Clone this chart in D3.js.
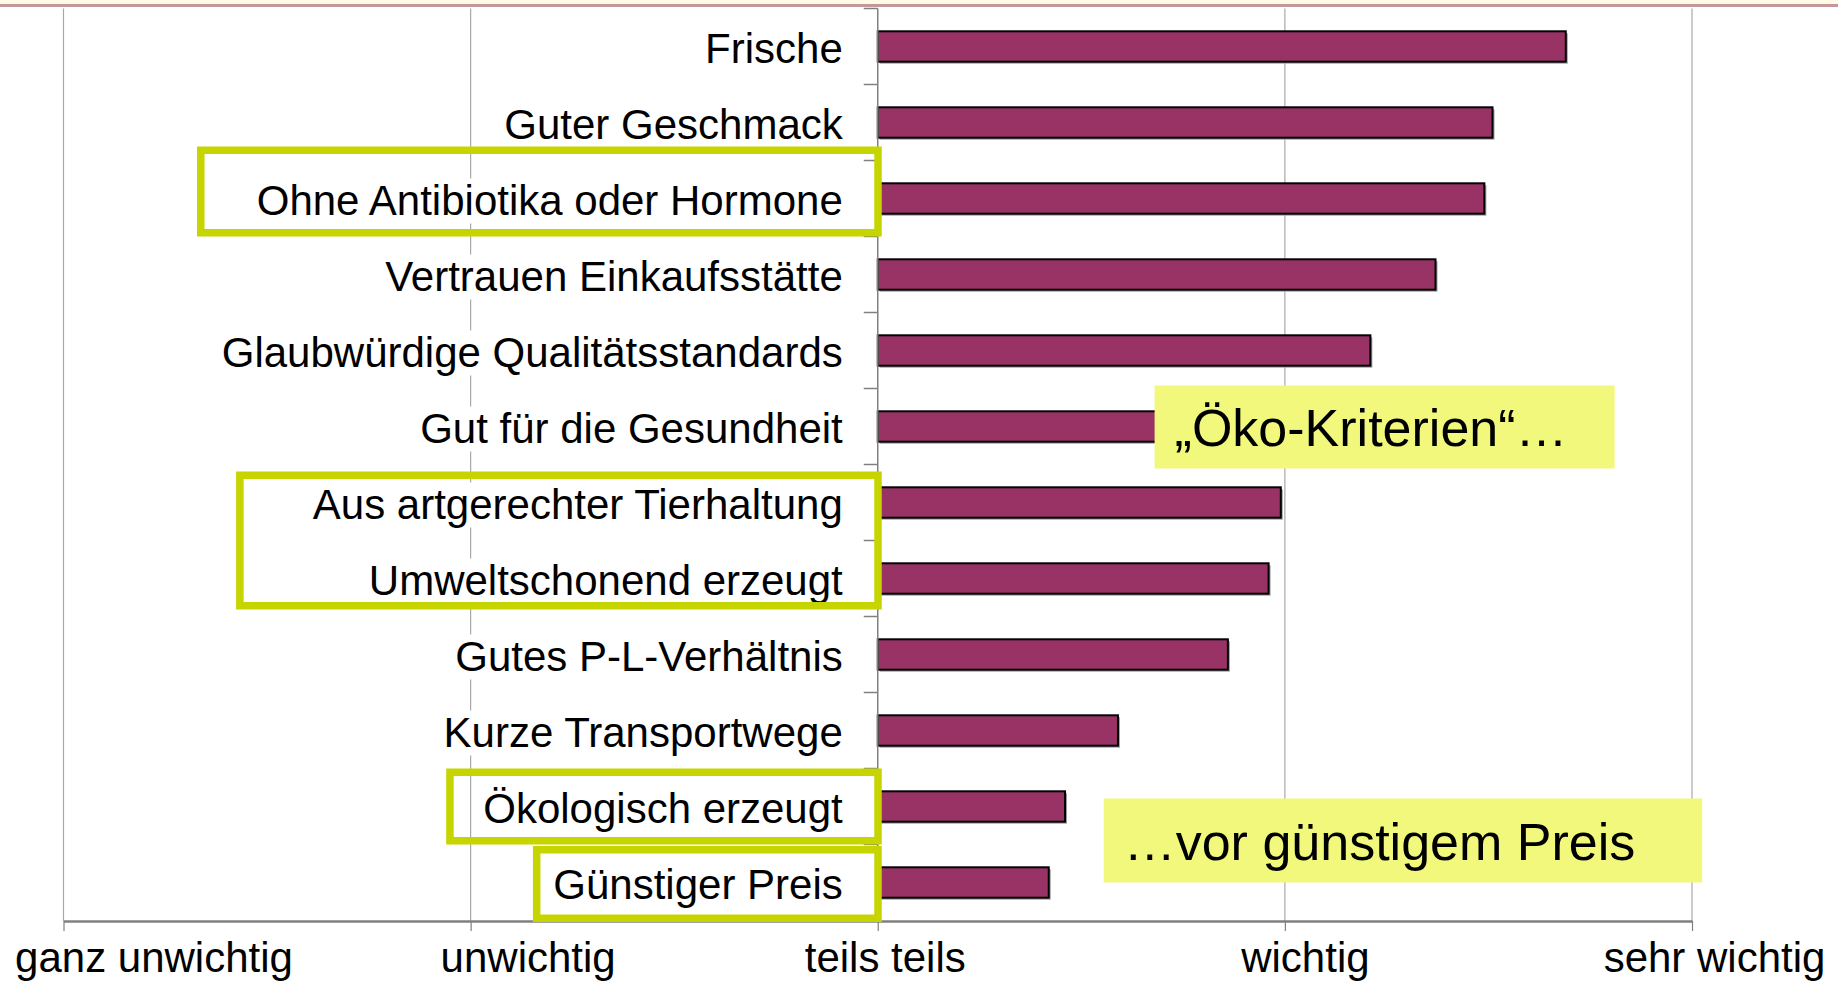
<!DOCTYPE html>
<html>
<head>
<meta charset="utf-8">
<script src="https://cdn.jsdelivr.net/npm/d3@7"></script>
<style>
  body { margin: 0; background: #fff; }
  text { font-family: "Liberation Sans", Arial, sans-serif; }
</style>
</head>
<body>
<div id="chart"></div>
<script>
// chart data
const categories = ["Frische", "Guter Geschmack", "Ohne Antibiotika oder Hormone",
  "Vertrauen Einkaufsstätte", "Glaubwürdige Qualitätsstandards", "Gut für die Gesundheit",
  "Aus artgerechter Tierhaltung", "Umweltschonend erzeugt", "Gutes P-L-Verhältnis",
  "Kurze Transportwege", "Ökologisch erzeugt", "Günstiger Preis"];
const values = [4.69, 4.51, 4.49, 4.37, 4.21, 4.08, 3.99, 3.96, 3.86, 3.59, 3.46, 3.42];
const tickValues = [1, 2, 3, 4, 5];
const tickLabels = ["ganz unwichtig", "unwichtig", "teils teils", "wichtig", "sehr wichtig"];
const baseValue = 3;

// annotations (green frames + yellow notes)
const frames = [
  {first: "Ohne Antibiotika oder Hormone", last: "Ohne Antibiotika oder Hormone", from: 1.328, top: -14, bottom: 0},
  {first: "Aus artgerechter Tierhaltung", last: "Umweltschonend erzeugt", from: 1.424, top: 7, bottom: -7},
  {first: "Ökologisch erzeugt", last: "Ökologisch erzeugt", from: 1.94, top: 0, bottom: 0},
  {first: "Günstiger Preis", last: "Günstiger Preis", from: 2.153, top: 1.5, bottom: 1.5}
];
const notes = [
  {text: "„Öko-Kriterien“…", row: "Gut für die Gesundheit", from: 3.68, to: 4.81, top: -3, bottom: 4},
  {text: "…vor günstigem Preis", row: "Ökologisch erzeugt", from: 3.555, to: 5.025, top: 30, bottom: 38}
];
// small horizontal nudges of the axis labels, as in the slide
const labelShift = [90, 57, 7, 20, 22];

const width = 1838, height = 984;
const axisY = 921;

const svg = d3.select("#chart").append("svg")
    .attr("width", width)
    .attr("height", height);

// slide header strip
svg.append("rect").attr("x", 0).attr("y", 0).attr("width", width).attr("height", 4).attr("fill", "#fffae6");
svg.append("rect").attr("x", 0).attr("y", 4).attr("width", width).attr("height", 3).attr("fill", "#c4979d");

const x = d3.scaleLinear().domain([1, 5]).range([63.5, 1692]);
const y = d3.scaleBand().domain(categories).range([8.5, 920.5]);
const barH = y.bandwidth() * 0.4;

// gridlines
svg.selectAll("line.grid").data(tickValues.filter(v => v !== baseValue))
  .enter().append("line")
    .attr("class", "grid")
    .attr("x1", d => x(d)).attr("x2", d => x(d))
    .attr("y1", y.range()[0]).attr("y2", axisY)
    .attr("stroke", "#a8a8a8")
    .attr("stroke-width", 1.2);

// category labels with white backing
const labels = svg.selectAll("g.lab").data(categories)
  .enter().append("g").attr("class", "lab");
labels.append("text")
    .attr("x", x(baseValue) - 35)
    .attr("y", d => y(d) + y.bandwidth() / 2 + 16)
    .attr("text-anchor", "end")
    .attr("font-size", 42)
    .attr("fill", "#000")
    .text(d => d);
labels.each(function() {
  const g = d3.select(this);
  const bb = g.select("text").node().getBBox();
  g.insert("rect", "text")
    .attr("x", bb.x - 4).attr("y", bb.y + 2)
    .attr("width", bb.width + 8).attr("height", bb.height - 2)
    .attr("fill", "#fff");
});

// bars
const bars = svg.selectAll("g.bar").data(values)
  .enter().append("g").attr("class", "bar");
bars.append("rect")
    .attr("x", x(baseValue) + 2)
    .attr("y", (d, i) => y(categories[i]) + (y.bandwidth() - barH) / 2 + 2)
    .attr("width", d => x(d) - x(baseValue))
    .attr("height", barH)
    .attr("fill", "#a0a0a0");
bars.append("rect")
    .attr("x", x(baseValue))
    .attr("y", (d, i) => y(categories[i]) + (y.bandwidth() - barH) / 2)
    .attr("width", d => x(d) - x(baseValue))
    .attr("height", barH)
    .attr("fill", "#993366")
    .attr("stroke", "#000")
    .attr("stroke-width", 2);

// vertical axis at "teils teils"
svg.append("line")
    .attr("x1", x(baseValue)).attr("x2", x(baseValue))
    .attr("y1", y.range()[0]).attr("y2", axisY)
    .attr("stroke", "#808080").attr("stroke-width", 1.5);
svg.selectAll("line.ytick").data(categories)
  .enter().append("line")
    .attr("class", "ytick")
    .attr("x1", x(baseValue) - 14).attr("x2", x(baseValue))
    .attr("y1", d => y(d)).attr("y2", d => y(d))
    .attr("stroke", "#808080").attr("stroke-width", 1.5);

// bottom axis
const xAxis = d3.axisBottom(x)
    .tickValues(tickValues)
    .tickSize(10)
    .tickSizeOuter(0)
    .tickFormat((d, i) => tickLabels[i]);

const gx = svg.append("g")
    .attr("transform", `translate(0,${axisY})`)
    .call(xAxis);
gx.select(".domain").attr("stroke", "#808080").attr("stroke-width", 2.5);
gx.selectAll(".tick line").attr("stroke", "#808080").attr("stroke-width", 1.2);
gx.selectAll(".tick text")
    .attr("font-family", "'Liberation Sans', Arial, sans-serif")
    .attr("font-size", 42)
    .attr("fill", "#000")
    .attr("y", 51)
    .attr("dy", 0)
    .attr("dx", (d, i) => labelShift[i]);

// green frames
const sw = 7.5;
svg.selectAll("rect.frame").data(frames)
  .enter().append("rect")
    .attr("class", "frame")
    .attr("x", d => x(d.from) + sw / 2)
    .attr("y", d => y(d.first) + d.top + sw / 2)
    .attr("width", d => x(baseValue) + 4 - sw - x(d.from))
    .attr("height", d => y(d.last) + y.bandwidth() + d.bottom - y(d.first) - d.top - sw)
    .attr("fill", "none")
    .attr("stroke", "#c6d400")
    .attr("stroke-width", sw);

// yellow notes
const note = svg.selectAll("g.note").data(notes)
  .enter().append("g").attr("class", "note");
note.append("rect")
    .attr("x", d => x(d.from))
    .attr("y", d => y(d.row) + d.top)
    .attr("width", d => x(d.to) - x(d.from))
    .attr("height", d => y.bandwidth() + d.bottom - d.top)
    .attr("fill", "#f1f87c");
note.append("text")
    .attr("x", d => x(d.from) + 20)
    .attr("y", d => y(d.row) + (d.top + y.bandwidth() + d.bottom) / 2 + 19)
    .attr("font-size", 52)
    .attr("fill", "#000")
    .text(d => d.text);
</script>
</body>
</html>
